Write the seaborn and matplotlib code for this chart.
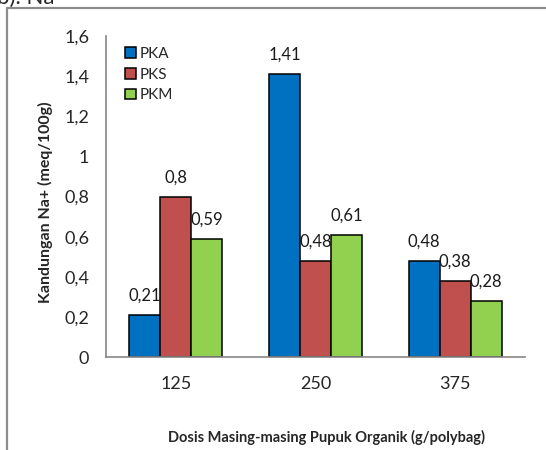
import matplotlib
matplotlib.use("Agg")
import matplotlib.pyplot as plt
from matplotlib.lines import Line2D
import seaborn as sns
import pandas as pd

# Dose groups and Na+ content per organic fertilizer type
doses = ["125", "250", "375"]
pka = [0.21, 1.41, 0.48]
pks = [0.80, 0.48, 0.38]
pkm = [0.59, 0.61, 0.28]
series_names = ["PKA", "PKS", "PKM"]
y_ticks = [0, 0.2, 0.4, 0.6, 0.8, 1.0, 1.2, 1.4, 1.6]

rows = []
for name, vals in zip(series_names, [pka, pks, pkm]):
    for d, v in zip(doses, vals):
        rows.append({"Dosis": d, "Pupuk": name, "Na": v})
df = pd.DataFrame(rows)

sns.set_style("white")
plt.rcParams["font.family"] = ["Lato", "DejaVu Sans"]

fig = plt.figure(figsize=(5.46, 4.5), dpi=100)
ax = fig.add_axes([106 / 546, 1 - 357 / 450, (525 - 106) / 546, (357 - 36) / 450])

palette = {"PKA": "#0070C0", "PKS": "#C0504D", "PKM": "#92D050"}
sns.barplot(data=df, x="Dosis", y="Na", hue="Pupuk", order=doses,
            hue_order=series_names, palette=palette, width=0.667,
            edgecolor="black", linewidth=1.1, saturation=1, ax=ax, legend=True)

def fmt(v):
    s = f"{v:.2f}".rstrip("0").rstrip(".")
    return s.replace(".", ",")

for cont, vals in zip(ax.containers, [pka, pks, pkm]):
    ax.bar_label(cont, labels=[fmt(v) for v in vals], padding=8,
                 fontsize=12, color="#1a1a1a")

ax.set_ylim(0, 1.6)
ax.set_xlim(-0.5, 2.5)
ax.set_yticks(y_ticks)
ax.set_yticklabels([fmt(t) if t != 0 else "0" for t in y_ticks], fontsize=13)
ax.set_xticks([0, 1, 2])
ax.set_xticklabels(doses, fontsize=13)
ax.set_xticks([-0.5, 0.5, 1.5, 2.5], minor=True)
ax.tick_params(axis="x", which="major", length=0, pad=14)
ax.tick_params(axis="x", which="minor", length=6, color="#868686", width=1.2, direction="out")
ax.tick_params(axis="y", length=6, color="#868686", width=1.2, direction="out", pad=6)
ax.set_xlabel("")
ax.set_ylabel("")
for side in ["top", "right"]:
    ax.spines[side].set_visible(False)
for side in ["left", "bottom"]:
    ax.spines[side].set_color("#868686")
    ax.spines[side].set_linewidth(1.2)

leg = ax.legend(loc="upper left", bbox_to_anchor=(0.02, 1.0), frameon=False,
                fontsize=11, handlelength=0.7, handleheight=0.7,
                handletextpad=0.25, labelspacing=0.45, borderaxespad=0.3)

fig.text(45 / 546, 1 - 202 / 450, "Kandungan Na+ (meq/100g)", rotation=90,
         ha="center", va="center", fontsize=11.5, fontweight="bold")
fig.text(327 / 546, 1 - 437 / 450, "Dosis Masing-masing Pupuk Organik (g/polybag)",
         ha="center", va="center", fontsize=10.5, fontweight="bold")

# surrounding frame (top and left edges)
fig.add_artist(Line2D([7 / 546, 1.0], [1 - 8 / 450, 1 - 8 / 450],
                      transform=fig.transFigure, color="#8c8c8c", linewidth=1.6))
fig.add_artist(Line2D([7 / 546, 7 / 546], [0, 1 - 8 / 450],
                      transform=fig.transFigure, color="#8c8c8c", linewidth=1.6))
fig.text(-0.005, 1 - 4 / 450, "b). Na", fontsize=16, va="baseline", ha="left")

fig.savefig("out.png", dpi=100)
